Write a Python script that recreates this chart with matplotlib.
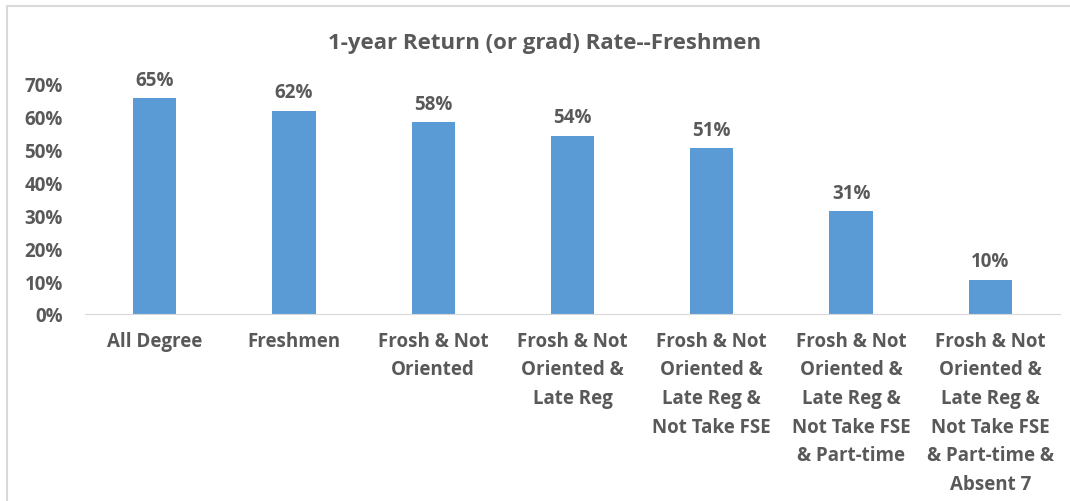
import matplotlib
matplotlib.use('Agg')
import matplotlib.pyplot as plt
from matplotlib.patches import Rectangle
from matplotlib.ticker import FuncFormatter

categories = ['All Degree', 'Freshmen', 'Frosh & Not\nOriented',
              'Frosh & Not\nOriented &\nLate Reg',
              'Frosh & Not\nOriented &\nLate Reg &\nNot Take FSE',
              'Frosh & Not\nOriented &\nLate Reg &\nNot Take FSE\n& Part-time',
              'Frosh & Not\nOriented &\nLate Reg &\nNot Take FSE\n& Part-time &\nAbsent 7']
rates = [0.657, 0.619, 0.583, 0.543, 0.505, 0.312, 0.105]
labels = ['65%', '62%', '58%', '54%', '51%', '31%', '10%']

text_color = '#595959'
bar_color = '#5B9BD5'
plt.rcParams['font.family'] = ['Open Sans', 'DejaVu Sans']
plt.rcParams['font.weight'] = 'bold'

fig = plt.figure(figsize=(10.7, 5.02), dpi=100)
ax = fig.add_axes([85 / 1070, 1 - 315 / 502, (1060 - 85) / 1070, (315 - 85) / 502])

x = range(len(categories))
ax.bar(x, rates, width=0.31, color=bar_color)
for i, (r, lab) in enumerate(zip(rates, labels)):
    ax.annotate(lab, (i, r), xytext=(0, 6), textcoords='offset points',
                ha='center', va='bottom', fontsize=13.5, fontweight='bold',
                color=text_color, annotation_clip=False)

ax.set_xlim(-0.5, len(categories) - 0.5)
ax.set_ylim(0, 0.7)
ax.set_yticks([i / 10 for i in range(8)])
ax.yaxis.set_major_formatter(FuncFormatter(lambda v, p: '{:.0f}%'.format(v * 100)))
ax.set_xticks(list(x))
ax.set_xticklabels(categories, linespacing=1.58)
ax.tick_params(axis='both', length=0, labelsize=13.5, labelcolor=text_color)
ax.tick_params(axis='y', pad=16)
ax.tick_params(axis='x', pad=12)
for lab in ax.get_xticklabels() + ax.get_yticklabels():
    lab.set_fontweight('bold')
for s in ['top', 'right', 'left']:
    ax.spines[s].set_visible(False)
ax.spines['bottom'].set_color('#d9d9d9')

fig.text(545 / 1070, 1 - 43 / 502, '1-year Return (or grad) Rate--Freshmen',
         ha='center', va='center', fontsize=16, fontweight='bold', color=text_color)

fig.patches.append(Rectangle((7 / 1070, -0.1), 1.2, 1 - 7 / 502 + 0.1,
                             transform=fig.transFigure, fill=False,
                             edgecolor='#d9d9d9', linewidth=1.5))

fig.savefig('out.png', dpi=100)
